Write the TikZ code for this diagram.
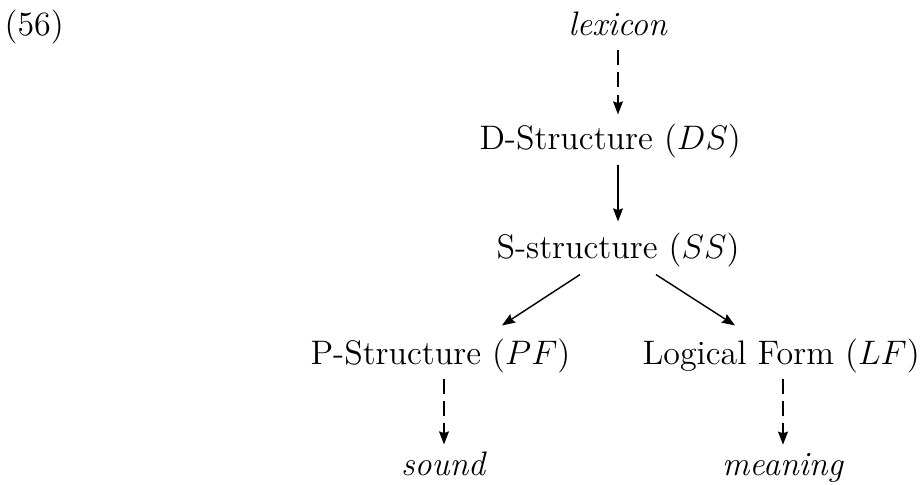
\documentclass[12pt,tikz,border=0pt]{standalone}
\usetikzlibrary{arrows.meta,calc}
\tikzset{
  x=0.353pt, y=-0.353pt,
  lbl/.style={inner sep=0pt, anchor=base},
  lblw/.style={inner sep=0pt, anchor=base west},
  arr/.style={line width=0.5pt, -{Stealth[length=4.6pt,width=3.5pt,inset=0.6pt]}},
  dsh/.style={arr, dash pattern=on 5.3pt off 2.6pt}
}
\begin{document}
\begin{tikzpicture}
\useasboundingbox (0,0) rectangle (923,485);
\node[lblw] (ex) at (4,36) {(56)};
\node[lbl] (lex) at (618,36) {\textit{lexicon}};
\node[lblw] (ds) at (479,150) {D-Structure ($DS$)};
\node[lblw] (ss) at (496,259) {S-structure ($SS$)};
\node[lblw] (pf) at (310,365) {P-Structure ($PF$)};
\node[lblw] (lf) at (642,365) {Logical Form ($LF$)};
\node[lbl] (snd) at (444,476) {\textit{sound}};
\node[lbl] (mng) at (783,476) {\textit{meaning}};
\draw[dsh] ($(lex.south)+(0,13)$) -- ($(ds.north west)+(139,-9.5)$);
\draw[arr] ($(ds.south west)+(139,5.5)$) -- ($(ss.north west)+(122,-11.5)$);
\draw[arr] ($(ss.south west)+(84,6.5)$) -- ($(pf.north west)+(192,-13.5)$);
\draw[arr] ($(ss.south west)+(160,6.5)$) -- ($(lf.north west)+(93,-13.5)$);
\draw[dsh] ($(pf.south west)+(134,4.5)$) -- ($(snd.north)+(0,-7.4)$);
\draw[dsh] ($(lf.south west)+(141,4.5)$) -- ($(mng.north)+(0,-8.7)$);
\end{tikzpicture}
\end{document}
